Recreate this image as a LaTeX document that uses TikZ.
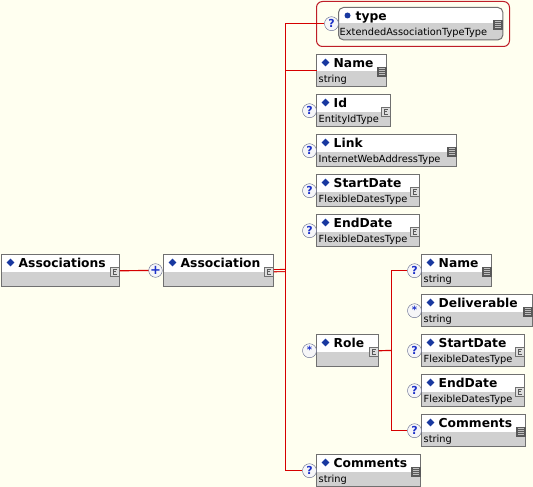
\documentclass[tikz,border=0pt]{standalone}
\usepackage{fontspec}
\setmainfont{DejaVu Sans}
\usepackage{tikz}
\usetikzlibrary{shapes.geometric,calc}

\definecolor{bgcream}{RGB}{255,255,240}
\definecolor{boxgray}{RGB}{112,112,112}
\definecolor{partgray}{RGB}{208,208,208}
\definecolor{linered}{RGB}{214,0,0}
\definecolor{diablue}{RGB}{24,56,160}
\definecolor{occblue}{RGB}{30,50,200}
\definecolor{occline}{RGB}{96,104,140}
\definecolor{attred}{RGB}{190,30,40}

% type icons at the right edge of a box
\newcommand\iconc[1]{%
  \coordinate (ic) at ([xshift=-5pt,yshift=-1pt]#1.east);
  \draw[boxgray,fill=partgray!70!white,line width=.8pt] ([xshift=-4.5pt,yshift=-4.5pt]ic) rectangle ([xshift=4.5pt,yshift=4.5pt]ic);
  \draw[black!65,line width=.6pt] ([xshift=2pt,yshift=2.5pt]ic) -- ([xshift=-1.5pt,yshift=2.5pt]ic)
    -- ([xshift=-1.5pt,yshift=-2.5pt]ic) -- ([xshift=2pt,yshift=-2.5pt]ic)
    ([xshift=-1.5pt]ic) -- ([xshift=1pt]ic);}
\newcommand\icons[1]{%
  \coordinate (ic) at ([xshift=-5pt,yshift=-1pt]#1.east);
  \fill[black!65] ([xshift=-5pt,yshift=-5pt]ic) rectangle ([xshift=5pt,yshift=5pt]ic);
  \foreach \dy in {-3,-1,1,3}
    \draw[white!75!black,line width=.6pt] ([xshift=-3pt,yshift=\dy pt]ic) -- ([xshift=3pt,yshift=\dy pt]ic);}

% occurrence marks
\newcommand\occq[1]{\node[occ] (o#1) at ([xshift=-7pt]#1.west) {?};}
\newcommand\occs[1]{\node[occ,font=\fontsize{10}{10}\selectfont\bfseries] (o#1) at ([xshift=-7pt]#1.west) {\raisebox{1.5pt}{*}};}
\newcommand\occnone[1]{}

% name, left, top, width, title, type, icon, occurrence
\newcommand\elem[8]{%
  \node[elbox,minimum width=#4pt] (#1) at (#2,#3) {};
  \fill[partgray] ([yshift=-17pt]#1.north west) rectangle (#1.south east);
  \draw[boxgray,line width=1pt] (#1.north west) rectangle (#1.south east);
  \node[dia] at ([xshift=9pt,yshift=-8pt]#1.north west) {};
  \node[eltitle] at ([xshift=17pt,yshift=-13pt]#1.north west) {#5};
  \node[eltype] at ([xshift=2pt,yshift=-28pt]#1.north west) {#6};
  \csname icon#7\endcsname{#1}%
  \csname occ#8\endcsname{#1}}

\begin{document}
\begin{tikzpicture}
  [x=1pt,y=-1pt,
   elbox/.style={anchor=north west,minimum height=32pt,inner sep=0pt,fill=white},
   attbox/.style={anchor=north west,minimum width=164pt,minimum height=32pt,inner sep=0pt,fill=white,rounded corners=5pt},
   dia/.style={diamond,fill=diablue,inner sep=0pt,minimum size=8pt},
   eltitle/.style={anchor=base west,inner sep=0pt,font=\fontsize{12.3}{14}\selectfont\bfseries},
   eltype/.style={anchor=base west,inner sep=0pt,font=\fontsize{9.8}{11}\selectfont},
   occ/.style={circle,draw=occline,fill={rgb,255:red,246;green,246;blue,248},minimum size=14pt,inner sep=0pt,
     text=occblue,font=\fontsize{11}{11}\selectfont\bfseries},
   conn/.style={draw=linered,line width=1.2pt}
  ]
  \fill[bgcream] (0,0) rectangle (533,487);
  \useasboundingbox (0,0) rectangle (533,487);

  \begin{scope}[shift={(0.5,0.5)}]
  % root and sequence
  \elem{assocs}{1}{254}{118}{Associations}{}{c}{none}
  \elem{assoc}{163}{254}{110}{Association}{}{c}{none}

  % attribute
  \draw[attred,line width=1pt,rounded corners=6pt] (316,1) rectangle (509,46);
  \node[attbox] (type) at (338,7) {};
  \begin{scope}
    \clip[rounded corners=5pt] (type.north west) rectangle (type.south east);
    \fill[partgray] ([yshift=-16pt]type.north west) rectangle (type.south east);
  \end{scope}
  \draw[boxgray,line width=1pt,rounded corners=5pt] (type.north west) rectangle (type.south east);
  \fill[diablue] ([xshift=9pt,yshift=-8pt]type.north west) circle (3pt);
  \node[eltitle] at ([xshift=17pt,yshift=-13pt]type.north west) {type};
  \node[eltype] at ([xshift=1pt,yshift=-28pt]type.north west) {ExtendedAssociationTypeType};
  \icons{type}
  \occq{type}

  % children
  \foreach \n/\t/\w/\ti/\ty/\ic/\oc in {name/54/70/Name/string/s/none,
      id/94/74/Id/EntityIdType/c/q, link/134/140/Link/InternetWebAddressType/s/q,
      sdate/174/103/StartDate/FlexibleDatesType/c/q, edate/214/103/EndDate/FlexibleDatesType/c/q,
      role/334/62/Role//c/s, comm/454/104/Comments/string/s/q}
    {\elem{\n}{316}{\t}{\w}{\ti}{\ty}{\ic}{\oc}}

  \foreach \n/\t/\w/\ti/\ty/\ic/\oc in {rname/254/70/Name/string/s/q,
      rdeliv/294/111/Deliverable/string/s/s, rsdate/334/103/StartDate/FlexibleDatesType/c/q,
      redate/374/103/EndDate/FlexibleDatesType/c/q, rcomm/414/104/Comments/string/s/q}
    {\elem{\n}{421}{\t}{\w}{\ti}{\ty}{\ic}{\oc}}

  % connectors
  \coordinate (bus) at (285,270);
  \coordinate (rbus) at (391,350);
  \coordinate (seqin) at (155,270);
  \draw[conn] (assocs.east) -- (seqin);
  \draw[linered,line width=1.1pt,double=bgcream,double distance=1pt] (assoc.east) -- (bus);
  \draw[conn] (otype.west) -| (bus) |- (ocomm.west);
  \draw[conn] (bus |- name.west) -- (name.west);
  \draw[conn] (role.east) -- (rbus);
  \draw[conn] (orname.west) -| (rbus) |- (orcomm.west);

  \node[occ,minimum size=13pt,font=\fontsize{13}{13}\selectfont\bfseries] (seq) at (seqin) {+};
  \end{scope}
\end{tikzpicture}
\end{document}
